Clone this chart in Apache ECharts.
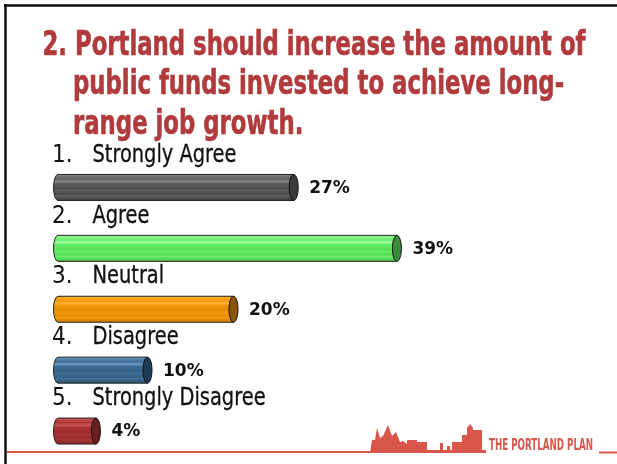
<!DOCTYPE html>
<html>
<head>
<meta charset="utf-8">
<script src="https://cdn.jsdelivr.net/npm/echarts@6/dist/echarts.min.js"></script>
<style>
html,body{margin:0;padding:0;background:#fff;}
#chart{width:617px;height:464px;}
</style>
</head>
<body>
<div id="chart"></div>
<script>
// ---- data ----
const titleLines = ['2. Portland should increase the amount of', 'public funds invested to achieve long-', 'range job growth.'];
const numbers = ['1.', '2.', '3.', '4.', '5.'];
const categories = ['Strongly Agree', 'Agree', 'Neutral', 'Disagree', 'Strongly Disagree'];
const values = [27, 39, 20, 10, 4];
const valueLabels = ['27%', '39%', '20%', '10%', '4%'];
const footerText = 'THE PORTLAND PLAN';

// ---- styles ----
const bodyColors = [
  ['#8a8a8a', '#5e5e5e', '#4a4a4a', '#3c3c3c'],
  ['#a8ffa8', '#66ee66', '#55dd55', '#44bb44'],
  ['#ffb030', '#f39a0c', '#e48c00', '#c87800'],
  ['#6d9cc4', '#3f6f98', '#356186', '#2a5070'],
  ['#d05a5a', '#ad3535', '#9c2c2c', '#802424']
];
const capColors = ['#3a3a3a', '#3b8b3b', '#8a5400', '#1f3c57', '#6b1e1e'];
const RED = '#b03a3c';
const LOGO = '#d9564b';

const NARROW = '"Liberation Sans Narrow", "DejaVu Sans Condensed", "Liberation Sans", sans-serif';

function measure(text, font) {
  const c = document.createElement('canvas').getContext('2d');
  c.font = font;
  return c.measureText(text).width;
}
const titleFont = 'bold 33px ' + NARROW;
const titleScale = 543 / measure(titleLines[0], titleFont);
const catFont = '24px ' + NARROW;
const catScale = 144 / measure('Strongly Agree', catFont);
const footFont = 'bold 15px ' + NARROW;
const footScale = 104 / measure(footerText, footFont);

const chart = echarts.init(document.getElementById('chart'), null, {renderer: 'canvas'});

function stripeGradient(cols) {
  return new echarts.graphic.LinearGradient(0, 0, 0, 1, [
    {offset: 0, color: cols[0]},
    {offset: 0.18, color: cols[1]},
    {offset: 0.3, color: cols[0]},
    {offset: 0.34, color: cols[1]},
    {offset: 0.55, color: cols[2]},
    {offset: 0.6, color: cols[1]},
    {offset: 0.75, color: cols[2]},
    {offset: 0.8, color: cols[1]},
    {offset: 1, color: cols[3]}
  ]);
}

function renderItem(params, api) {
  const v = api.value(0);
  const idx = api.value(1);
  const p0 = api.coord([0, idx]);
  const p1 = api.coord([v, idx]);
  const h = 26, ry = h / 2, rx = 4.5;
  const cy = p0[1];
  const left = p0[0] - 8;
  const x2 = p1[0];
  const y0 = cy - ry, y1 = cy + ry;
  const d = 'M' + (left + rx) + ' ' + y0 + ' L' + x2 + ' ' + y0 + ' L' + x2 + ' ' + y1 +
            ' L' + (left + rx) + ' ' + y1 + ' A' + rx + ' ' + ry + ' 0 0 1 ' + (left + rx) + ' ' + y0 + ' Z';
  const i = params.dataIndex;
  return {
    type: 'group',
    children: [
      {type: 'path', shape: {pathData: d}, style: {fill: stripeGradient(bodyColors[i]), stroke: '#222', lineWidth: 1}},
      {type: 'ellipse', shape: {cx: x2, cy: cy, rx: rx, ry: ry}, style: {fill: capColors[i], stroke: '#111', lineWidth: 1}},
      {type: 'text', x: x2 + rx + 11, y: cy + 1, style: {text: valueLabels[i], fill: '#111', font: 'bold 17px "DejaVu Sans", sans-serif', align: 'left', verticalAlign: 'middle'}},
      {type: 'text', x: p0[0] - 9.5, y: cy - 32, style: {text: numbers[i], fill: '#111', font: catFont, align: 'left', verticalAlign: 'middle'}},
      {type: 'text', x: p0[0] + 31, y: cy - 32, scaleX: catScale, style: {text: categories[i], fill: '#111', font: catFont, align: 'left', verticalAlign: 'middle', stroke: '#111', lineWidth: 0.3}}
    ]
  };
}

// skyline decoration
const base = 453;
const skyline = [
  [370, base], [372, 440], [375, 440], [377, 428], [380, 438], [383, 436], [388, 425], [392, 436], [394, 434], [396, 432], [400, 442], [403, 441], [407, 444],
  [407, 440], [417, 440], [417, 442], [427, 442], [427, 450], [440, 450], [440, 443], [443, 443], [443, 450],
  [447, 450], [447, 446], [450, 446], [450, 450], [452, 450], [452, 442], [462, 442], [462, 435], [467, 435], [467, 428],
  [470, 424], [473, 428], [473, 430], [482, 430], [482, 450], [486, 450], [486, base]
];

const option = {
  animation: false,
  grid: {left: 61.5, right: 39.5, top: 157, bottom: 2.5},
  xAxis: {type: 'value', min: 0, max: 60, show: false},
  yAxis: {type: 'category', data: categories, inverse: true, show: false},
  series: [{
    type: 'custom',
    renderItem: renderItem,
    encode: {x: 0, y: 1},
    data: values.map((v, i) => [v, i]),
    clip: false
  }],
  graphic: [
    {type: 'line', shape: {x1: 4, y1: 5.5, x2: 617, y2: 5.5}, style: {stroke: '#111', lineWidth: 2.5}},
    {type: 'line', shape: {x1: 5.5, y1: 4, x2: 5.5, y2: 464}, style: {stroke: '#111', lineWidth: 2.5}},
    {type: 'line', shape: {x1: 7, y1: 452, x2: 486, y2: 452}, style: {stroke: LOGO, lineWidth: 2}},
    {type: 'line', shape: {x1: 599, y1: 452.5, x2: 617, y2: 452.5}, style: {stroke: LOGO, lineWidth: 2}},
    {type: 'polygon', shape: {points: skyline}, style: {fill: LOGO}},
    {type: 'text', x: 489, y: 454, scaleX: footScale, style: {text: footerText, fill: LOGO, font: footFont, align: 'left', verticalAlign: 'bottom'}},
    {type: 'text', x: 42.5, y: 46, scaleX: titleScale, style: {text: titleLines[0], fill: RED, font: titleFont, align: 'left', verticalAlign: 'middle', stroke: RED, lineWidth: 0.6}},
    {type: 'text', x: 73, y: 85, scaleX: titleScale, style: {text: titleLines[1], fill: RED, font: titleFont, align: 'left', verticalAlign: 'middle', stroke: RED, lineWidth: 0.6}},
    {type: 'text', x: 73, y: 125, scaleX: titleScale, style: {text: titleLines[2], fill: RED, font: titleFont, align: 'left', verticalAlign: 'middle', stroke: RED, lineWidth: 0.6}}
  ]
};
chart.setOption(option);
</script>
</body>
</html>
